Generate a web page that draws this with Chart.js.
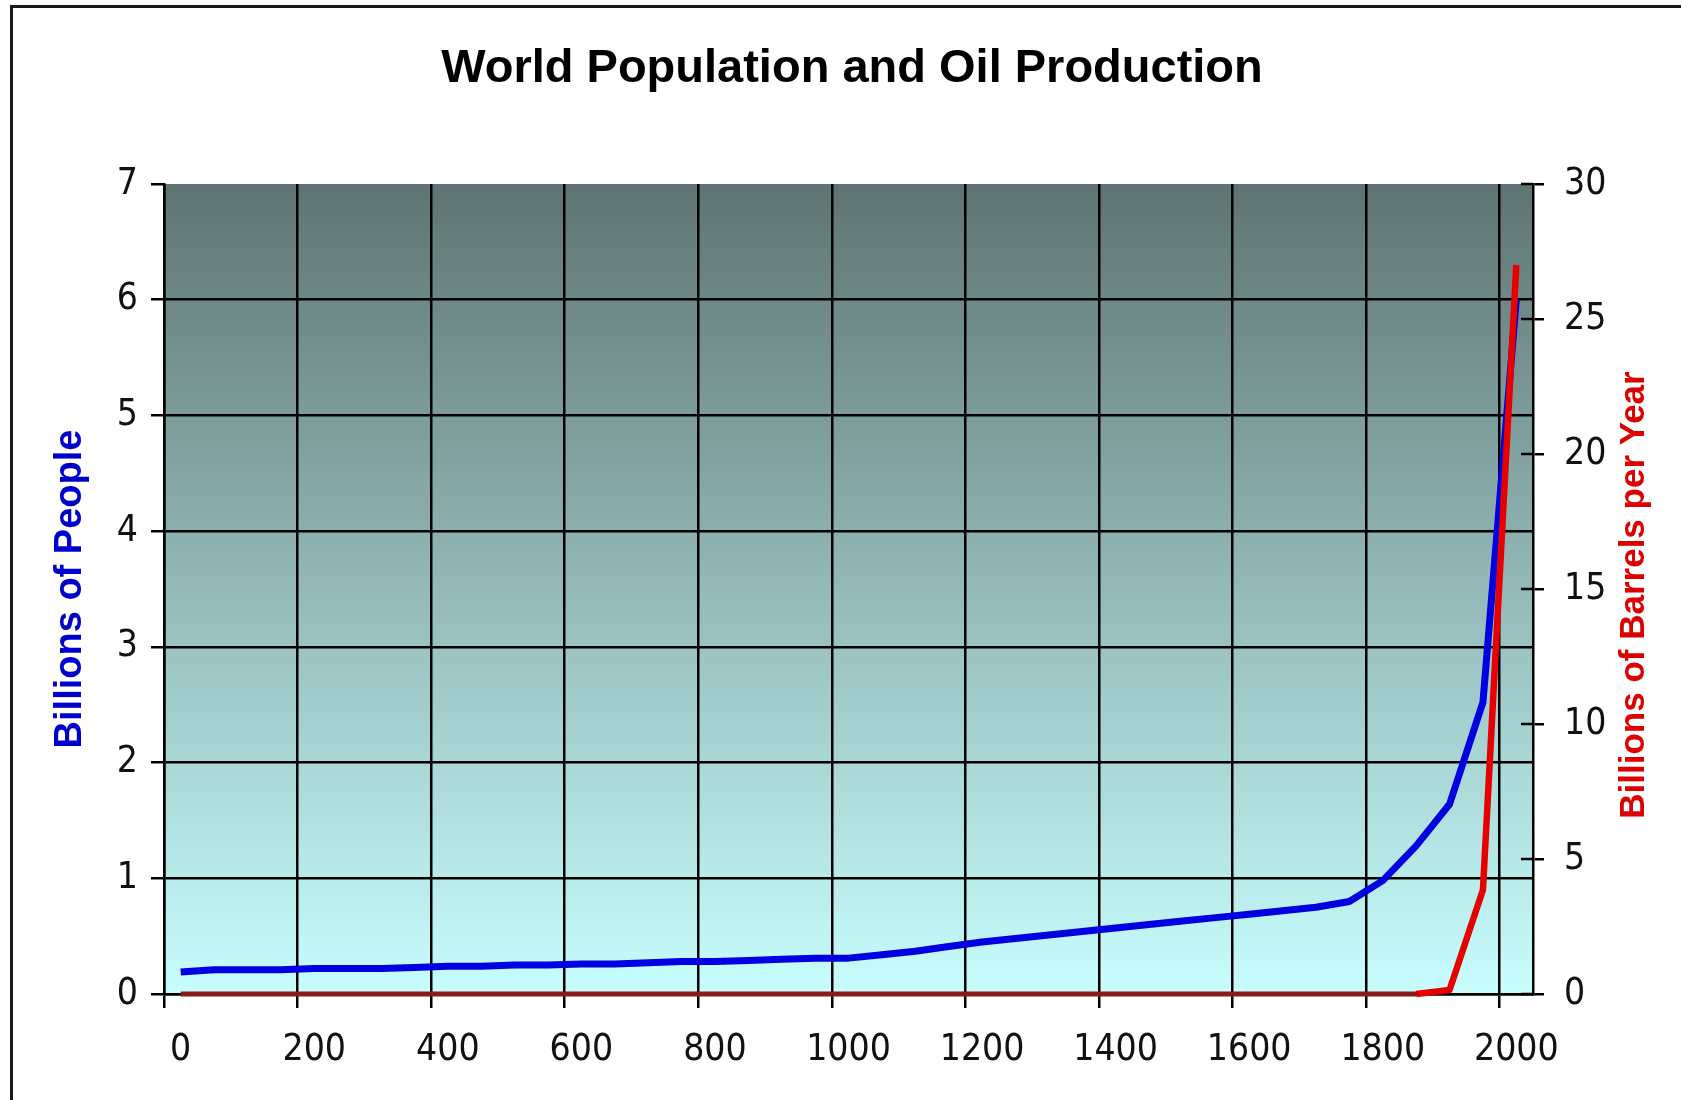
<!DOCTYPE html>
<html>
<head>
<meta charset="utf-8">
<script src="https://cdn.jsdelivr.net/npm/chart.js@4.4.1/dist/chart.umd.min.js"></script>
<style>
  html, body { margin: 0; padding: 0; background: #fff; }
  #wrap { width: 1681px; height: 1100px; }
</style>
</head>
<body>
<div id="wrap"><canvas id="chart" width="1681" height="1100"></canvas></div>
<script>
// categories: one every 50 years
const years = [0, 50, 100, 150, 200, 250, 300, 350, 400, 450, 500, 550, 600, 650, 700, 750,
  800, 850, 900, 950, 1000, 1050, 1100, 1150, 1200, 1250, 1300, 1350, 1400, 1450, 1500,
  1550, 1600, 1650, 1700, 1750, 1800, 1850, 1900, 1950, 2000];

// billions of people
const population = [0.19, 0.21, 0.21, 0.21, 0.22, 0.22, 0.22, 0.23, 0.24, 0.24, 0.25,
  0.25, 0.26, 0.26, 0.27, 0.28, 0.28, 0.29, 0.30, 0.31, 0.31, 0.34, 0.37, 0.41, 0.45,
  0.48, 0.51, 0.54, 0.57, 0.60, 0.63, 0.66, 0.69, 0.72, 0.75, 0.80, 0.98, 1.28, 1.64,
  2.52, 6.00];

// billions of barrels per year
const oil = [0, 0, 0, 0, 0, 0, 0, 0, 0, 0, 0, 0, 0, 0, 0, 0, 0, 0, 0, 0, 0, 0, 0, 0, 0,
  0, 0, 0, 0, 0, 0, 0, 0, 0, 0, 0, 0, 0, 0.15, 3.85, 27.0];

// years that get a label + grid line
const labelYears = [0, 200, 400, 600, 800, 1000, 1200, 1400, 1600, 1800, 2000];

const tickFont = { family: "'Liberation Sans Narrow', 'DejaVu Sans Condensed', Arial", size: 37 };

const decor = {
  id: "decor",
  beforeDraw(chart) {
    const { ctx, chartArea: a } = chart;
    ctx.save();
    ctx.fillStyle = "#fff";
    ctx.fillRect(0, 0, chart.width, chart.height);
    const g = ctx.createLinearGradient(0, a.top, 0, a.bottom);
    g.addColorStop(0, "#5e7472");
    g.addColorStop(1, "#c8fefe");
    ctx.fillStyle = g;
    ctx.fillRect(a.left, a.top, a.right - a.left, a.bottom - a.top);
    // outer frame
    ctx.strokeStyle = "#1a1a1a";
    ctx.lineWidth = 3;
    ctx.strokeRect(11.5, 6.5, chart.width, chart.height + 10);
    ctx.restore();
  },
  beforeDatasetsDraw(chart) {
    // right axis ticks cross into the plot
    const { ctx, chartArea: a } = chart;
    const y2 = chart.scales.y2;
    ctx.save();
    ctx.strokeStyle = "#000";
    ctx.lineWidth = 2.5;
    y2.ticks.forEach(t => {
      const y = y2.getPixelForValue(t.value);
      ctx.beginPath();
      ctx.moveTo(a.right - 12, y);
      ctx.lineTo(a.right, y);
      ctx.stroke();
    });
    ctx.restore();
  },
  afterDraw(chart) {
    const { ctx } = chart;
    ctx.save();
    ctx.translate(1634, 595);
    ctx.rotate(-Math.PI / 2);
    ctx.font = "bold 35px 'Liberation Sans', Arial";
    ctx.fillStyle = "#dd0000";
    ctx.textAlign = "center";
    ctx.textBaseline = "middle";
    ctx.fillText("Billions of Barrels per Year", 0, 0);
    ctx.restore();
  }
};

new Chart(document.getElementById("chart"), {
  type: "line",
  data: {
    labels: years,
    datasets: [{
      label: "Oil",
      data: oil,
      yAxisID: "y2",
      borderColor: "#e60000",
      borderWidth: 6.5,
      pointRadius: 0,
      borderJoinStyle: "round",
      clip: false,
      order: 0,
      segment: {
        borderColor: c => (c.p0.parsed.y === 0 && c.p1.parsed.y === 0) ? "#8a1b1b" : undefined,
        borderWidth: c => (c.p0.parsed.y === 0 && c.p1.parsed.y === 0) ? 5 : undefined
      }
    }, {
      label: "Population",
      data: population,
      yAxisID: "y",
      borderColor: "#0000e0",
      borderWidth: 7,
      pointRadius: 0,
      borderJoinStyle: "round",
      order: 1
    }]
  },
  options: {
    responsive: false,
    devicePixelRatio: 1,
    animation: false,
    layout: { padding: { left: 23, right: 0, top: 0, bottom: 0 } },
    plugins: {
      legend: { display: false },
      tooltip: { enabled: false },
      title: {
        display: true,
        text: "World Population and Oil Production",
        color: "#000",
        font: { family: "'Liberation Sans', Arial", size: 47, weight: "bold", lineHeight: 1.2 },
        padding: { top: 41, bottom: 86.6 }
      }
    },
    scales: {
      x: {
        type: "category",
        offset: true,
        afterFit(s) { s.height = 106; },
        border: { display: true, color: "#000", width: 2.5 },
        grid: {
          offset: true,
          lineWidth: 2.5,
          tickLength: 14,
          color: c => (c.index % 4 === 0 ? "#000" : "rgba(0,0,0,0)"),
          tickColor: c => (c.index % 4 === 0 ? "#000" : "rgba(0,0,0,0)")
        },
        ticks: {
          autoSkip: false,
          maxRotation: 0,
          padding: 20,
          color: "#111",
          font: tickFont,
          callback: (v, i) => (labelYears.includes(years[i]) ? String(years[i]) : "")
        }
      },
      y: {
        position: "left",
        min: 0,
        max: 7,
        afterFit(s) { s.width = 141; },
        border: { display: true, color: "#000", width: 2.5 },
        grid: {
          lineWidth: 2.5,
          tickLength: 13,
          color: c => (c.tick && c.tick.value === 7 ? "rgba(0,0,0,0)" : "#000"),
          tickColor: "#000"
        },
        ticks: { stepSize: 1, padding: 13, color: "#111", font: tickFont },
        title: {
          display: true,
          text: "Billions of People",
          color: "#0000cc",
          font: { family: "'Liberation Sans', Arial", size: 38, weight: "bold", lineHeight: 1.2 },
          padding: { top: 25, bottom: 0 }
        }
      },
      y2: {
        position: "right",
        min: 0,
        max: 30,
        afterFit(s) { s.width = 148; },
        border: { display: true, color: "#000", width: 2.5 },
        grid: { drawOnChartArea: false, lineWidth: 2.5, tickLength: 11, color: "#000" },
        ticks: { stepSize: 5, padding: 20, color: "#111", font: tickFont }
      }
    }
  },
  plugins: [decor]
});
</script>
</body>
</html>
